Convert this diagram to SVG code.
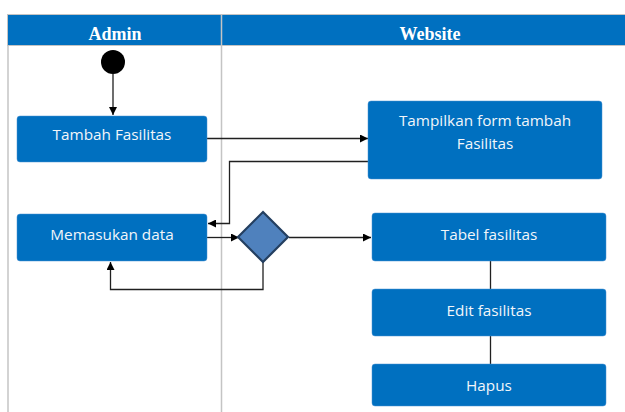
<svg xmlns="http://www.w3.org/2000/svg" width="625" height="412" viewBox="0 0 625 412">
  <style>
    .lane { fill: none; stroke: #c4c4c4; stroke-width: 1.5; }
    .head { fill: #0070c0; stroke: #c4c4c4; stroke-width: 1; }
    .htxt { font-family: "Liberation Serif", serif; font-weight: bold; font-size: 18px; fill: #ffffff; text-anchor: middle; }
    .box { fill: #0070c0; stroke: #4a90d0; stroke-width: 0.5; }
    .btxt { font-family: "Open Sans", "Noto Sans", sans-serif; font-size: 15.3px; fill: #f2f6fa; text-anchor: middle; }
    .flow { fill: none; stroke: #202020; stroke-width: 1.3; }
  </style>
  <defs>
    <marker id="arrow" viewBox="0 0 10 10" refX="10" refY="5" markerWidth="8" markerHeight="8" markerUnits="userSpaceOnUse" orient="auto">
      <path d="M0,0 L10,5 L0,10 Z" fill="#000000"/>
    </marker>
  </defs>

  <!-- swimlanes -->
  <g id="lanes">
    <rect class="head" x="7.5" y="14.5" width="630" height="31"/>
    <line class="lane" x1="221.5" y1="14" x2="221.5" y2="412"/>
    <line class="lane" x1="8" y1="46" x2="8" y2="412"/>
    <text class="htxt" x="115" y="40">Admin</text>
    <text class="htxt" x="430" y="40">Website</text>
  </g>

  <!-- connectors -->
  <g id="connectors">
    <path class="flow" d="M113,74 V115" marker-end="url(#arrow)"/>
    <path class="flow" d="M207,138.5 H368" marker-end="url(#arrow)"/>
    <path class="flow" d="M368,161.5 H229.5 V223.5 H208" marker-end="url(#arrow)"/>
    <path class="flow" d="M207,237.5 H239" marker-end="url(#arrow)"/>
    <path class="flow" d="M289,237.5 H371" marker-end="url(#arrow)"/>
    <path class="flow" d="M263,261 V289.5 H110.5 V262" marker-end="url(#arrow)"/>
    <path class="flow" d="M490.5,261 V289"/>
    <path class="flow" d="M490.5,336 V364"/>
  </g>

  <g id="start">
    <circle cx="113" cy="62" r="12" fill="#000000"/>
  </g>

  <g id="tambah-fasilitas">
    <rect class="box" x="17" y="116" width="190" height="46" rx="3"/>
    <text class="btxt" x="112" y="139.5">Tambah Fasilitas</text>
  </g>

  <g id="tampilkan-form">
    <rect class="box" x="368" y="101" width="234" height="78" rx="3"/>
    <text class="btxt" x="485" y="125.5">Tampilkan form tambah</text>
    <text class="btxt" x="485" y="148.5">Fasilitas</text>
  </g>

  <g id="memasukan-data">
    <rect class="box" x="17" y="214" width="190" height="47" rx="3"/>
    <text class="btxt" x="112" y="239.5">Memasukan data</text>
  </g>

  <g id="decision">
    <path d="M263,212 L288,237 L263,262 L238,237 Z" fill="#4f81bd" stroke="#243f60" stroke-width="2.2"/>
  </g>

  <g id="tabel-fasilitas">
    <rect class="box" x="372" y="213" width="234" height="48" rx="3"/>
    <text class="btxt" x="489" y="239.5">Tabel fasilitas</text>
  </g>

  <g id="edit-fasilitas">
    <rect class="box" x="372" y="289" width="234" height="47" rx="3"/>
    <text class="btxt" x="489" y="315.5">Edit fasilitas</text>
  </g>

  <g id="hapus">
    <rect class="box" x="372" y="364" width="234" height="42" rx="3"/>
    <text class="btxt" x="489" y="390.5">Hapus</text>
  </g>
</svg>
